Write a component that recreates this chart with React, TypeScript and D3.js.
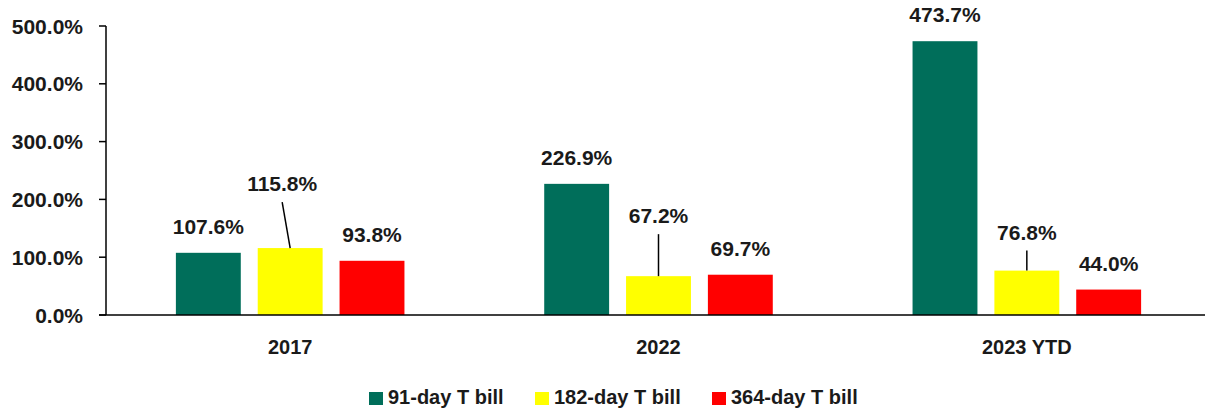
import React from "react";
import * as d3 from "d3";

// categories and series
const years = ["2017", "2022", "2023 YTD"];
const series = ["91-day T bill", "182-day T bill", "364-day T bill"];
const bill91 = [107.6, 226.9, 473.7];
const bill182 = [115.8, 67.2, 76.8];
const bill364 = [93.8, 69.7, 44.0];
const yTicks = [0, 100, 200, 300, 400, 500];

const colors = ["#006E5A", "#FFFF00", "#FF0000"];

// labels that Excel pulled away from the bar (dx, dy in px), with a leader line
const labelNudge: Record<string, { dx: number; dy: number }> = {
  "182-day T bill|2017": { dx: -8, dy: -38 },
  "182-day T bill|2022": { dx: 0, dy: -34 },
  "182-day T bill|2023 YTD": { dx: 0, dy: -12 },
};

const W = 1205;
const H = 411;
const left = 106;
const right = 1211;
const top = 26;
const bottom = 315;
const font = "'Liberation Sans', Arial, sans-serif";

export default function App() {
  const values = [bill91, bill182, bill364];
  const rows = years.map((yr, i) => ({
    year: yr,
    vals: series.map((s, j) => ({ s, j, v: values[j][i] })),
  }));

  const x0 = d3.scaleBand().domain(years).range([left, right]);
  const x1 = d3
    .scaleBand()
    .domain(series)
    .range([0, x0.bandwidth()])
    .paddingInner(0.207)
    .paddingOuter(0.854);
  const y = d3.scaleLinear().domain([0, 500]).range([bottom, top]);
  const fmt = (v: number) => d3.format(".1f")(v) + "%";

  return (
    <svg
      width={W}
      height={H}
      style={{ position: "absolute", left: 0, top: 0, background: "#fff" }}
      fontFamily={font}
      fontWeight="bold"
    >
      {/* y axis */}
      <line x1={left} x2={left} y1={top} y2={bottom} stroke="#000" strokeWidth={1.5} />
      {yTicks.map((t) => (
        <g key={t}>
          <line x1={left - 7} x2={left} y1={y(t)} y2={y(t)} stroke="#000" strokeWidth={1.5} />
          <text x={83} y={y(t)} dy="0.36em" textAnchor="end" fontSize={21} fill="#1a1a1a">
            {fmt(t)}
          </text>
        </g>
      ))}

      {/* bars + labels */}
      {rows.map((r) => (
        <g key={r.year} transform={`translate(${x0(r.year)},0)`}>
          {r.vals.map((d) => {
            const bx = x1(d.s)!;
            const bw = x1.bandwidth();
            const cx = bx + bw / 2;
            const nudge = labelNudge[d.s + "|" + r.year];
            const ly = y(d.v) - 19 + (nudge ? nudge.dy : 0);
            const lx = cx + (nudge ? nudge.dx : 0);
            return (
              <g key={d.s}>
                <rect x={bx} y={y(d.v)} width={bw} height={bottom - y(d.v)} fill={colors[d.j]} />
                {nudge && (
                  <line x1={lx} y1={ly + 11} x2={cx} y2={y(d.v)} stroke="#000" strokeWidth={1.5} />
                )}
                <text x={lx} y={ly} textAnchor="middle" fontSize={21} fill="#1a1a1a">
                  {fmt(d.v)}
                </text>
              </g>
            );
          })}
          <text x={x0.bandwidth() / 2} y={354} textAnchor="middle" fontSize={20} fill="#1a1a1a">
            {r.year}
          </text>
        </g>
      ))}

      {/* x axis */}
      <line x1={left - 7} x2={right} y1={bottom} y2={bottom} stroke="#000" strokeWidth={1.5} />

      {/* legend */}
      {series.map((s, j) => {
        const lx = [369, 535, 712][j];
        return (
          <g key={s} transform={`translate(${lx},392)`}>
            <rect width={14} height={13} fill={colors[j]} />
            <text x={19} y={12} fontSize={20} fill="#1a1a1a">
              {s}
            </text>
          </g>
        );
      })}
    </svg>
  );
}
